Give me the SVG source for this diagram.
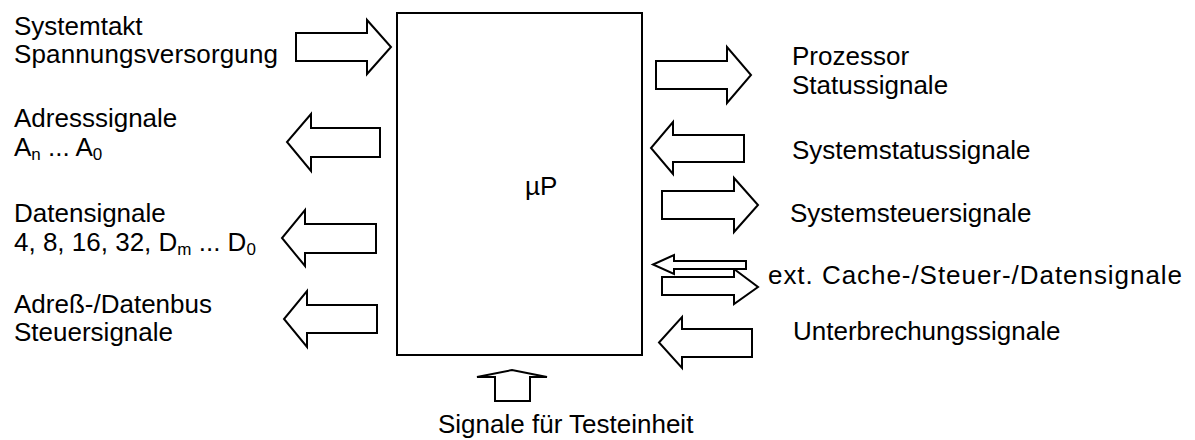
<svg xmlns="http://www.w3.org/2000/svg" width="1195" height="440" viewBox="0 0 1195 440">
  <style>
    .lbl { font-family: "Liberation Sans", Arial, sans-serif; font-size: 26px; fill: #000; }
    .sub { font-size: 17px; }
    .arrow { fill: #fff; stroke: #000; stroke-width: 2; stroke-linejoin: miter; }
    .box { fill: #fff; stroke: #000; stroke-width: 2; }
  </style>
  <rect width="1195" height="440" fill="#fff"/>

  <!-- processor block -->
  <g id="cpu">
    <rect class="box" x="397" y="13" width="245" height="342"/>
    <text class="lbl" x="525" y="195">µP</text>
  </g>

  <!-- signal arrows -->
  <g id="connectors">
    <polygon class="arrow" points="296,33 367,33 367,20 391,47 367,74 367,61 296,61"/>
    <polygon class="arrow" points="380,128 311,128 311,114 287,142 311,171 311,157 380,157"/>
    <polygon class="arrow" points="376,224 305,224 305,210 282,238 305,266 305,253 376,253"/>
    <polygon class="arrow" points="377,305 307,305 307,291 284,319 307,347 307,333 377,333"/>
    <polygon class="arrow" points="656,61 727,61 727,47 751,75 727,103 727,89 656,89"/>
    <polygon class="arrow" points="744,135 673,135 673,122 651,148 673,174 673,162 744,162"/>
    <polygon class="arrow" points="662,191 734,191 734,178 758,205 734,232 734,219 662,219"/>
    <polygon class="arrow" points="662,277 734,277 734,269 758,287 734,304 734,295 662,295"/>
    <polygon class="arrow" points="746,261 674,261 674,255 653,264.5 674,274 674,269 746,269"/>
    <polygon class="arrow" points="752,329 682,329 682,317 659,342.5 682,368 682,357 752,357"/>
    <polygon class="arrow" points="495,401 495,377 477,377 512,370 547,377 530,377 530,401"/>
  </g>

  <!-- left side labels -->
  <g id="takt">
    <text class="lbl" x="14" y="35">Systemtakt</text>
    <text class="lbl" x="14" y="63" textLength="264">Spannungsversorgung</text>
  </g>
  <g id="adressen">
    <text class="lbl" x="14" y="127">Adresssignale</text>
    <text class="lbl" x="14" y="156">A<tspan class="sub" dy="4">n</tspan><tspan dy="-4"> ... A</tspan><tspan class="sub" dy="4">0</tspan></text>
  </g>
  <g id="daten">
    <text class="lbl" x="14" y="222">Datensignale</text>
    <text class="lbl" x="14" y="251">4, 8, 16, 32, D<tspan class="sub" dy="4">m</tspan><tspan dy="-4"> ... D</tspan><tspan class="sub" dy="4">0</tspan></text>
  </g>
  <g id="bussteuer">
    <text class="lbl" x="14" y="313">Adreß-/Datenbus</text>
    <text class="lbl" x="14" y="341">Steuersignale</text>
  </g>

  <!-- right side labels -->
  <g id="prozessorstatus">
    <text class="lbl" x="792" y="65">Prozessor</text>
    <text class="lbl" x="792" y="94">Statussignale</text>
  </g>
  <g id="systemstatus">
    <text class="lbl" x="792" y="159">Systemstatussignale</text>
  </g>
  <g id="systemsteuer">
    <text class="lbl" x="790" y="222">Systemsteuersignale</text>
  </g>
  <g id="cache">
    <text class="lbl" x="768" y="284" textLength="414">ext. Cache-/Steuer-/Datensignale</text>
  </g>
  <g id="interrupt">
    <text class="lbl" x="793" y="340">Unterbrechungssignale</text>
  </g>
  <g id="test">
    <text class="lbl" x="438" y="433">Signale für Testeinheit</text>
  </g>
</svg>
